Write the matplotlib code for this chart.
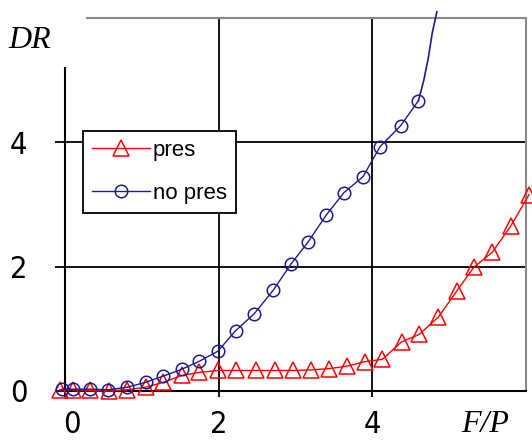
import matplotlib
matplotlib.use("Agg")
import matplotlib.pyplot as plt
from matplotlib import font_manager
from matplotlib.transforms import ScaledTranslation

# -------------------------------------------------------------------
# DATOS
# -------------------------------------------------------------------
pres_x = [-0.07, 0.10, 0.33, 0.57, 0.81, 1.05, 1.28, 1.52, 1.75, 1.99,
          2.23, 2.48, 2.73, 2.97, 3.20, 3.44, 3.67, 3.90, 4.13, 4.38,
          4.61, 4.86, 5.10, 5.32, 5.56, 5.80, 6.04]
pres_y = [0.02, 0.02, 0.01, 0.00, 0.02, 0.06, 0.14, 0.25, 0.30, 0.33,
          0.33, 0.33, 0.33, 0.33, 0.34, 0.36, 0.40, 0.47, 0.51, 0.79,
          0.91, 1.19, 1.61, 1.99, 2.23, 2.65, 3.16]

nopres_x = [-0.04, 0.10, 0.33, 0.56, 0.81, 1.05, 1.28, 1.52, 1.75, 1.99,
            2.22, 2.46, 2.71, 2.94, 3.16, 3.40, 3.63, 3.88, 4.10, 4.37,
            4.60]
nopres_y = [0.03, 0.03, 0.03, 0.02, 0.06, 0.14, 0.24, 0.35, 0.48, 0.64,
            0.97, 1.24, 1.62, 2.04, 2.39, 2.83, 3.19, 3.45, 3.93, 4.27,
            4.67]
# tramo final sin marcadores
cola_x = [4.60, 4.67, 4.73, 4.78, 4.84]
cola_y = [4.67, 5.00, 5.37, 5.76, 6.10]

ticks = [0, 2, 4]
etiquetas = ["0", "2", "4"]

ROJO = "#ff0000"
AZUL = "#1c1c8e"

# fuente estrecha para los numeros de los ejes, si existe
estrechas = [f for f in font_manager.fontManager.ttflist
             if f.name == "DejaVu Sans" and f.stretch == "condensed"]
props_ticks = {"family": "DejaVu Sans", "stretch": "condensed"} if estrechas \
    else {"family": "Liberation Sans"}

fig = plt.figure(figsize=(5.32, 4.42), dpi=100)
ax = fig.add_axes([65 / 532, 51 / 442, 461 / 532, 373 / 442])

ax.set_xlim(0, 6)
ax.set_ylim(0, 6)

# rejilla
for v in [2, 4]:
    ax.axvline(v, color="black", lw=1.3, zorder=1)
    ax.axhline(v, color="black", lw=1.3, zorder=1)

ax.plot(pres_x, pres_y, color=ROJO, lw=1, marker="^", markersize=11,
        mfc="none", mec=ROJO, mew=1.1, label="pres", clip_on=False, zorder=3)
ax.plot(nopres_x, nopres_y, color=AZUL, lw=1, marker="o", markersize=9,
        mfc="none", mec=AZUL, mew=1.1, label="no pres", clip_on=False, zorder=4)
ax.plot(cola_x, cola_y, color=AZUL, lw=1.2, clip_on=False, zorder=4)

# ejes / bordes
ax.spines["left"].set_color("black")
ax.spines["left"].set_linewidth(1.5)
ax.spines["left"].set_bounds(0, 5.2)
ax.spines["bottom"].set_color("black")
ax.spines["bottom"].set_linewidth(1.5)
ax.spines["top"].set_color("#888888")
ax.spines["top"].set_linewidth(1.5)
ax.spines["top"].set_bounds(0.29, 6)
ax.spines["right"].set_color("#888888")
ax.spines["right"].set_linewidth(1.5)

ax.set_xticks(ticks)
ax.set_xticklabels(etiquetas)
ax.set_yticks(ticks)
ax.set_yticklabels(etiquetas)
ax.tick_params(axis="y", length=7, width=1.3, pad=20, labelsize=22)
ax.tick_params(axis="x", length=4, width=1.3, pad=10, labelsize=22)
for t in ax.get_xticklabels() + ax.get_yticklabels():
    t.set_fontproperties(font_manager.FontProperties(size=22, **props_ticks))
# el "0" del eje x esta algo desplazado a la derecha en el original
primera = ax.get_xticklabels()[0]
primera.set_transform(primera.get_transform()
                      + ScaledTranslation(7 / 100, 0, fig.dpi_scale_trans))

leg = ax.legend(loc="upper left", bbox_to_anchor=(0.039, 0.697),
                borderaxespad=0, fancybox=False, framealpha=1,
                edgecolor="black", handlelength=2.6, handletextpad=0.15,
                labelspacing=1.0, borderpad=0.4,
                prop={"family": "Liberation Sans", "size": 16})
leg.get_frame().set_linewidth(1.3)
leg.set_zorder(5)

fig.text(30 / 532, 1 - 40 / 442, "DR", fontsize=23, style="italic",
         family="Liberation Serif", ha="center", va="center")
fig.text(485 / 532, 1 - 425 / 442, "F/P", fontsize=23, style="italic",
         family="Liberation Serif", ha="center", va="center")

fig.savefig("out.png", dpi=100)
